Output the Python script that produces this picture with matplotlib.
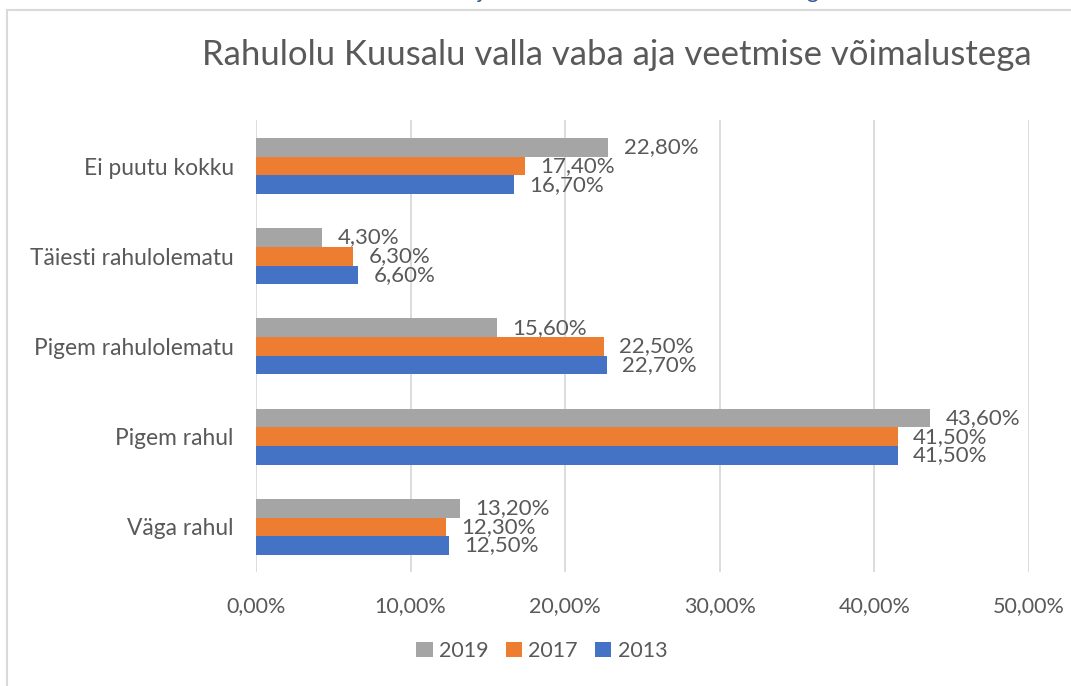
import numpy as np
import matplotlib.pyplot as plt
from matplotlib.lines import Line2D

plt.rcParams['font.family'] = ['Lato', 'DejaVu Sans']

# andmed
kategooriad = ['Ei puutu kokku', 'Täiesti rahulolematu', 'Pigem rahulolematu',
               'Pigem rahul', 'Väga rahul']
v2019 = [22.8, 4.3, 15.6, 43.6, 13.2]
v2017 = [17.4, 6.3, 22.5, 41.5, 12.3]
v2013 = [16.7, 6.6, 22.7, 41.5, 12.5]
aastad = ['2019', '2017', '2013']
xticks = [0, 10, 20, 30, 40, 50]

varvid = ['#A5A5A5', '#ED7D31', '#4472C4']
tekst = '#595959'

fig = plt.figure(figsize=(10.71, 6.86), dpi=100)
ax = fig.add_axes([0.239, 0.1662, 0.7218, 0.6588])

y = np.arange(len(kategooriad))
h = 0.207
seeriad = [v2019, v2017, v2013]
for i, (vals, c, lab) in enumerate(zip(seeriad, varvid, aastad)):
    pos = y + (i - 1) * h
    ax.barh(pos, vals, height=h, color=c, label=lab, zorder=3)
    for p, v in zip(pos, vals):
        ax.annotate(f'{v:.2f}%'.replace('.', ','), (v, p), xytext=(11, 0),
                    textcoords='offset points', va='center', ha='left',
                    fontsize=16, color=tekst)

ax.set_ylim(len(kategooriad) - 0.5, -0.51)
ax.set_xlim(0, 50)
ax.set_xticks(xticks)
ax.set_xticklabels([f'{t:.2f}%'.replace('.', ',') for t in xticks])
ax.set_yticks(y)
ax.set_yticklabels(kategooriad)
ax.tick_params(axis='x', length=0, pad=17.5, labelsize=15.5, labelcolor=tekst)
ax.tick_params(axis='y', length=0, pad=16, labelsize=16.4, labelcolor=tekst)
ax.grid(axis='x', color='#D9D9D9', linewidth=1.3, zorder=0)
for s in ax.spines.values():
    s.set_visible(False)

fig.text(0.576, 0.92, 'Rahulolu Kuusalu valla vaba aja veetmise võimalustega',
         ha='center', va='center', fontsize=25, color=tekst)

ax.legend(loc='upper center', bbox_to_anchor=(0.37, -0.11), ncol=3, frameon=False,
          fontsize=15.5, handlelength=0.75, handleheight=0.75, handletextpad=0.3,
          columnspacing=0.8, labelcolor=tekst)

# diagrammi raam
fig.add_artist(Line2D([7 / 1071, 7 / 1071], [0, 1 - 10 / 686], color='#D9D9D9', lw=1.5))
fig.add_artist(Line2D([7 / 1071, 1], [1 - 10 / 686, 1 - 10 / 686], color='#D9D9D9', lw=1.5))

# ülemise pealkirja äralõigatud osa
fig.text(478 / 1071, 1 + 2 / 686, 'j', color='#2F5597', fontsize=16, va='baseline')
fig.text(806 / 1071, 1 + 2 / 686, 'g', color='#2F5597', fontsize=16, va='baseline')

fig.savefig('out.png', dpi=100)
